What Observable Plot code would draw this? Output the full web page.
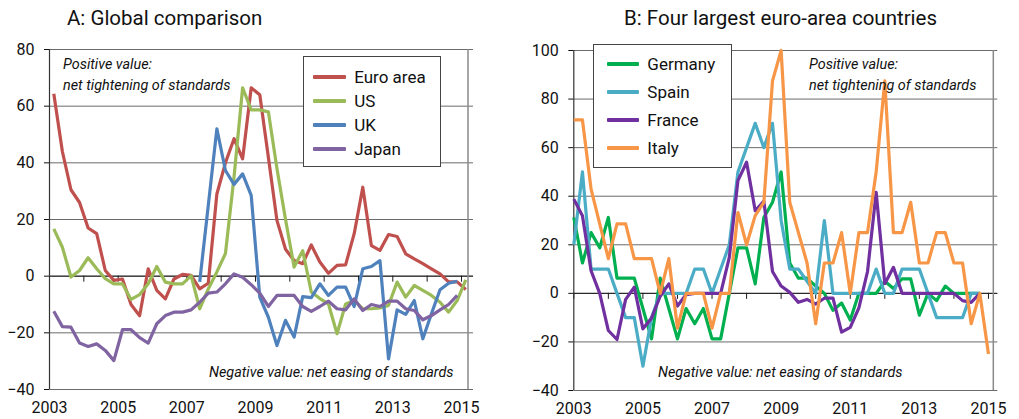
<!DOCTYPE html>
<html><head><meta charset="utf-8">
<script src="https://cdn.jsdelivr.net/npm/d3@7"></script>
<script src="https://cdn.jsdelivr.net/npm/@observablehq/plot@0.6"></script>
<style>
body{margin:0;background:#fff;font-family:Roboto,"DejaVu Sans",sans-serif;color:#111;}
#wrap{position:relative;width:1019px;height:419px;overflow:hidden;background:#fff;}
.panel{position:absolute;top:0;}
.title{position:absolute;top:6px;font-size:20.5px;line-height:24px;white-space:nowrap;color:#111;}
.legend{position:absolute;background:#fff;border:1px solid #444;box-sizing:border-box;}
.legend .item{position:absolute;left:0;height:22px;display:flex;align-items:center;font-size:17px;white-space:nowrap;}
.legend .sw{position:absolute;height:4px;border-radius:1px;}
.note{position:absolute;font-style:italic;font-size:14.4px;line-height:18px;white-space:nowrap;color:#111;}
</style></head><body><div id="wrap"></div><script>
// ---------- Panel A: Global comparison (quarterly, 2003Q1 - 2015Q1) ----------
const seriesA = ["Euro area", "US", "UK", "Japan"];
const colorsA = ["#C0504D", "#9BBB59", "#4F81BD", "#8064A2"];
const euroArea = [64.4, 44, 30.5, 26, 17, 15, 2, -1.5, -1, -10, -14, 2.6, -5, -8, -1, 0.6, 0.3, -4.5, -2.5, 29, 40, 48.5, 41.4, 66.5, 64, 42, 19.7, 9.5, 5.5, 4.4, 11, 5, 1, 3.8, 4, 15, 31.4, 10.8, 9.1, 14.7, 14, 7.9, 6.1, 4.4, 2.6, 0.8, -2, -2, -4.7];
const us = [16.7, 10.2, -0.3, 2, 6.5, 2.6, -0.9, -2.7, -2.7, -8.2, -6.5, -2.7, 3.4, -2.1, -2.7, -2.7, 0.2, -11.5, -4.5, 1.5, 8, 35, 66.5, 58.7, 58.7, 58, 38, 20, 3.2, 9, -5.6, -7.9, -9.8, -20.3, -9.8, -8.6, -11.5, -11.5, -11.2, -10.3, -2.1, -7.4, -3.3, -5, -6.8, -9.2, -12.7, -8.6, -1.3];
const uk = [null, null, null, null, null, null, null, null, null, null, null, null, null, null, null, null, null, -2, 25, 52, 37.3, 32.4, 36.1, 28.5, -7.4, -14.5, -24.5, -15.6, -21.5, -7.2, -7.6, -2.7, -6.8, -3.9, -3.9, -10.7, 2.6, 3.4, 5.5, -29.2, -11.9, -13.5, -8.6, -22.1, -13.3, -4.8, -2.5, -1.8, null];
const japan = [-12.4, -17.8, -18, -23.6, -24.8, -23.9, -26.2, -29.8, -18.9, -18.9, -21.7, -23.6, -16.8, -13.9, -12.7, -12.7, -11.9, -9.2, -6, -5.6, -2.7, 0.8, -0.4, -3, -6, -10.7, -6.8, -6.8, -6.8, -10.7, -12.4, -10.7, -8.8, -11.5, -11.9, -8, -12.1, -10, -10.7, -8.8, -8.8, -11.5, -12.1, -15.4, -13.9, -11.9, -10, -6.8, null];
const valuesA = [euroArea, us, uk, japan];

// ---------- Panel B: Four largest euro-area countries ----------
const seriesB = ["Germany", "Spain", "France", "Italy"];
const colorsB = ["#00B050", "#4BACC6", "#7030A0", "#F79646"];
const germany = [31.25, 12.5, 25, 18.75, 31.25, 6.25, 6.25, 6.25, -6.25, -18.75, 6.25, -6.25, -18.75, -6.25, -12.5, -6.25, -18.75, -18.75, 0, 18.75, 18.75, 3.9, 31.25, 37.5, 50, 12.5, 6.25, 6.25, 3, 0, -7, -4, -11, 0, 0, 0, 5, 2, 6, 6, -9, 0, -3, 3, 0, 0, 0, 0, null];
const spain = [20, 50, 10, 10, 10, 0, -10, -10, -30, -10, 0, 0, 0, 0, 10, 10, 0, 10, 20, 50, 60, 70, 60, 70, 30, 10, 10, 5, 0, 30, 0, 0, 0, 0, 0, 10, 0, 0, 10, 10, 10, 0, -10, -10, -10, -10, 0, 0, null];
const france = [38.8, 32, 9.3, 0, -15.3, -19, -2.5, 2.5, -14.6, -10.2, -1.2, 3.9, -5.2, -0.5, 0, 0, 0, 0, 14.8, 46.4, 54, 34, 38, 9, 3, 0.4, -3.7, -2.5, -4.4, -2, -2, -16, -14, -6, 9, 41.6, 4, 10.7, 0, 0, 0, 0, 0, 0, 0, -3, -3.7, 0, null];
const italy = [71.4, 71.4, 42.9, 28.6, 14.3, 28.6, 28.6, 14.3, 14.3, 14.3, 0, 14.3, -14.3, 0, 0, 0, -14.3, 0, 0, 33.3, 20, 32, 37.5, 87.5, 100, 37.5, 25, 12.5, -12.5, 12.5, 12.5, 25, 0, 25, 25, 50, 87.5, 25, 25, 37.5, 12.5, 12.5, 25, 25, 12.5, 12.5, -12.5, 0, -25];
const valuesB = [germany, spain, france, italy];

// ---------- axes ----------
const tickYears = [2003, 2004, 2005, 2006, 2007, 2008, 2009, 2010, 2011, 2012, 2013, 2014, 2015];
const labelYears = [2003, 2005, 2007, 2009, 2011, 2013, 2015];
const yTicksA = [-40, -20, 0, 20, 40, 60, 80];
const yTicksB = [-40, -20, 0, 20, 40, 60, 80, 100];

function rows(names, values, offset) {
  const out = [];
  names.forEach((s, k) => values[k].forEach((v, i) => {
    if (v !== null) out.push({s, t: 2003 + offset + i * 0.25, v});
  }));
  return out;
}

function panel(o) {
  const data = rows(o.names, o.values, o.offset);
  return Plot.plot({
    width: o.width, height: 419,
    marginLeft: o.ml, marginRight: o.mr, marginTop: o.mt, marginBottom: o.mb,
    style: {fontFamily: "Roboto, sans-serif", fontSize: "16px", color: "#111", background: "transparent", overflow: "visible"},
    x: {domain: o.xDomain, ticks: labelYears, tickFormat: d => String(d), tickSize: 0, tickPadding: 12, label: null},
    y: {domain: o.yDomain, ticks: o.yTicks, tickSize: 5, tickPadding: 10, label: null},
    color: {domain: o.names, range: o.colors},
    marks: [
      Plot.ruleY(o.yTicks, {stroke: "#6b6b6b", strokeWidth: 1}),
      Plot.ruleY([0], {stroke: "#1a1a1a", strokeWidth: 1}),
      Plot.ruleX(tickYears, {x: d => d, y1: 0, y2: 0, insetBottom: -6, stroke: "#1a1a1a"}),
      Plot.ruleX([o.xDomain[0]], {stroke: "#333", strokeWidth: 1.2}),
      Plot.ruleX([o.edge], {stroke: "#8a8a8a", strokeWidth: 1.5}),
      ...o.names.map(n => Plot.lineY(data.filter(d => d.s === n), {
        x: "t", y: "v", stroke: "s", strokeWidth: 3.2, strokeLinejoin: "round", strokeLinecap: "butt"
      }))
    ]
  });
}

const wrap = document.getElementById("wrap");
function place(el, left) { el.classList.add("panel"); el.style.left = left + "px"; wrap.appendChild(el); }

place(panel({names: seriesA, values: valuesA, colors: colorsA, offset: 0.125,
  width: 510, ml: 49, mr: 37, mt: 49, mb: 30,
  xDomain: [2003, 2015.35], edge: 2015.19, yDomain: [-40, 80], yTicks: yTicksA}), 0);
place(panel({names: seriesB, values: valuesB, colors: colorsB, offset: 0,
  width: 509, ml: 63.3, mr: 21.7, mt: 50, mb: 29,
  xDomain: [2003, 2015.27], edge: 2015.14, yDomain: [-40, 100], yTicks: yTicksB}), 510);

function addDiv(cls, text, css) {
  const d = document.createElement("div");
  d.className = cls; d.textContent = text;
  Object.assign(d.style, css); wrap.appendChild(d); return d;
}
addDiv("title", "A: Global comparison", {left: "67px"});
addDiv("title", "B: Four largest euro-area countries", {left: "624px"});

function legend(names, colors, box, swL, swR, textL, centers) {
  const lg = document.createElement("div");
  lg.className = "legend";
  Object.assign(lg.style, {left: box[0] + "px", top: box[1] + "px", width: box[2] + "px", height: box[3] + "px"});
  names.forEach((n, i) => {
    const sw = document.createElement("div");
    sw.className = "sw";
    Object.assign(sw.style, {left: swL + "px", width: (swR - swL) + "px", top: (centers[i] - 2) + "px", background: colors[i]});
    lg.appendChild(sw);
    const t = document.createElement("div");
    t.className = "item"; t.textContent = n;
    Object.assign(t.style, {left: textL + "px", top: (centers[i] - 11) + "px"});
    lg.appendChild(t);
  });
  wrap.appendChild(lg);
}
legend(seriesA, colorsA, [302.7, 56, 138, 111], 9, 42.5, 50.5, [20, 43.5, 67.5, 91.5]);
legend(seriesB, colorsB, [593.3, 44, 138.5, 124], 12.5, 45, 53, [18.5, 47, 74.5, 102.5]);

addDiv("note", "Positive value:", {left: "63px", top: "56px"});
addDiv("note", "net tightening of standards", {left: "63px", top: "77px"});
addDiv("note", "Positive value:", {left: "809px", top: "56px"});
addDiv("note", "net tightening of standards", {left: "809px", top: "77px"});
addDiv("note", "Negative value: net easing of standards", {left: "209px", top: "364px"});
addDiv("note", "Negative value: net easing of standards", {left: "658px", top: "364px"});
</script></body></html>
